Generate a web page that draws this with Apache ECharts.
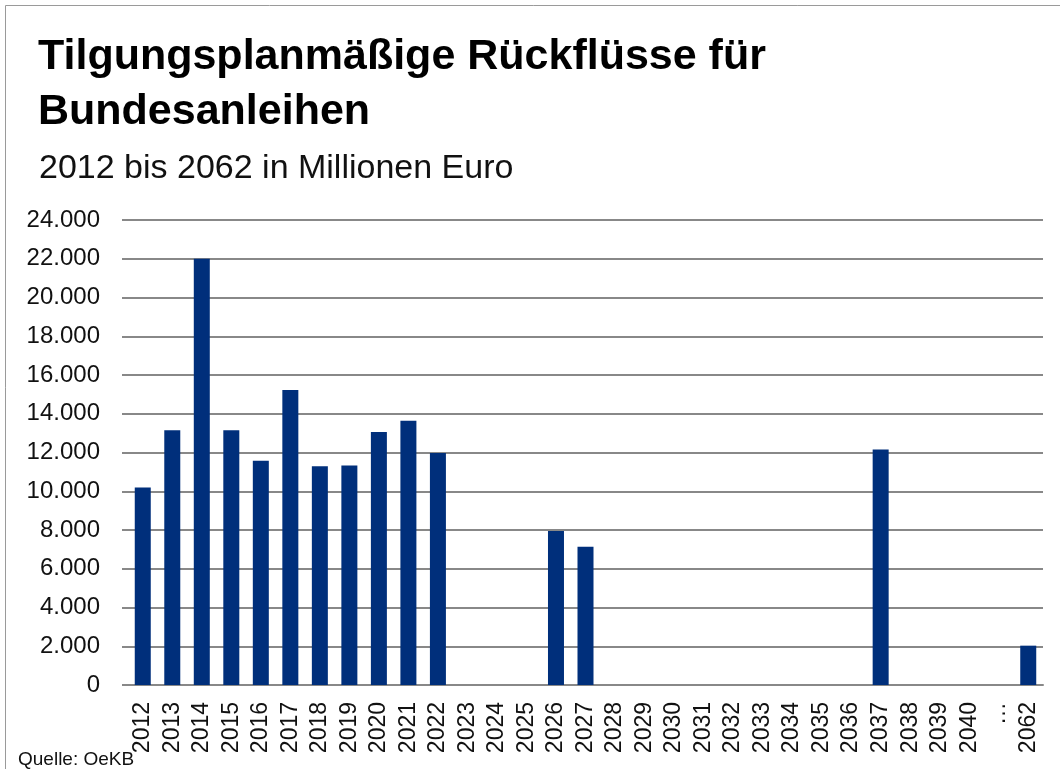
<!DOCTYPE html>
<html>
<head>
<meta charset="utf-8">
<script src="https://cdn.jsdelivr.net/npm/echarts@6/dist/echarts.min.js"></script>
<style>
  html, body { margin: 0; padding: 0; background: #fff; }
  #chart { width: 1060px; height: 769px; }
</style>
</head>
<body>
<div id="chart"></div>
<script>
// Jahre (mit Lücke "…" zwischen 2040 und 2062)
const years = ['2012', '2013', '2014', '2015', '2016', '2017', '2018', '2019', '2020', '2021',
  '2022', '2023', '2024', '2025', '2026', '2027', '2028', '2029', '2030', '2031',
  '2032', '2033', '2034', '2035', '2036', '2037', '2038', '2039', '2040', '…', '2062'];
// Rückflüsse in Mio. Euro
const rueckfluesse = [10200, 13150, 22000, 13150, 11580, 15230, 11290, 11330, 13060, 13640,
  11980, 0, 0, 0, 7950, 7140, 0, 0, 0, 0,
  0, 0, 0, 0, 0, 12150, 0, 0, 0, null, 2030];
const yTicks = { min: 0, max: 24000, interval: 2000 };

const titleText = 'Tilgungsplanmäßige Rückflüsse für\nBundesanleihen';
const subText = '2012 bis 2062 in Millionen Euro';
const sourceText = 'Quelle: OeKB';

function fmt(v) {
  return String(v).replace(/\B(?=(\d{3})+(?!\d))/g, '.');
}

const chart = echarts.init(document.getElementById('chart'));
chart.setOption({
  animation: false,
  backgroundColor: '#fff',
  title: [
    {
      text: titleText,
      left: 33, top: 25,
      textStyle: { fontFamily: 'Liberation Sans', fontWeight: 'bold', fontSize: 43, lineHeight: 55, color: '#000' }
    },
    {
      text: subText,
      left: 34, top: 147,
      textStyle: { fontFamily: 'Liberation Sans', fontWeight: 'normal', fontSize: 34, lineHeight: 34, color: '#111' }
    },
    {
      text: sourceText,
      left: 13, top: 745,
      textStyle: { fontFamily: 'Liberation Sans', fontWeight: 'normal', fontSize: 19, lineHeight: 19, color: '#111' }
    }
  ],
  graphic: [{
    type: 'rect', silent: true,
    shape: { x: 5.5, y: 5.5, width: 1200, height: 1000 },
    style: { fill: null, stroke: '#9a9a9a', lineWidth: 1 }
  }],
  grid: { left: 128, right: 17, top: 220, bottom: 84 },
  xAxis: {
    type: 'category',
    data: years,
    axisLine: { lineStyle: { color: '#888', width: 2 } },
    axisTick: { show: false },
    axisLabel: {
      rotate: 90, margin: 17, interval: 0,
      fontFamily: 'Liberation Sans', fontSize: 23, color: '#111'
    }
  },
  yAxis: {
    type: 'value',
    min: yTicks.min, max: yTicks.max, interval: yTicks.interval,
    axisLine: { show: false },
    axisTick: { show: true, length: 6, lineStyle: { color: '#888', width: 2 } },
    splitLine: { lineStyle: { color: '#888', width: 2 } },
    axisLabel: {
      margin: 28,
      fontFamily: 'Liberation Sans', fontSize: 24, color: '#111',
      formatter: v => fmt(v)
    }
  },
  series: [{
    type: 'bar',
    data: rueckfluesse,
    barWidth: 16,
    itemStyle: { color: '#002f7b' }
  }]
});
</script>
</body>
</html>
